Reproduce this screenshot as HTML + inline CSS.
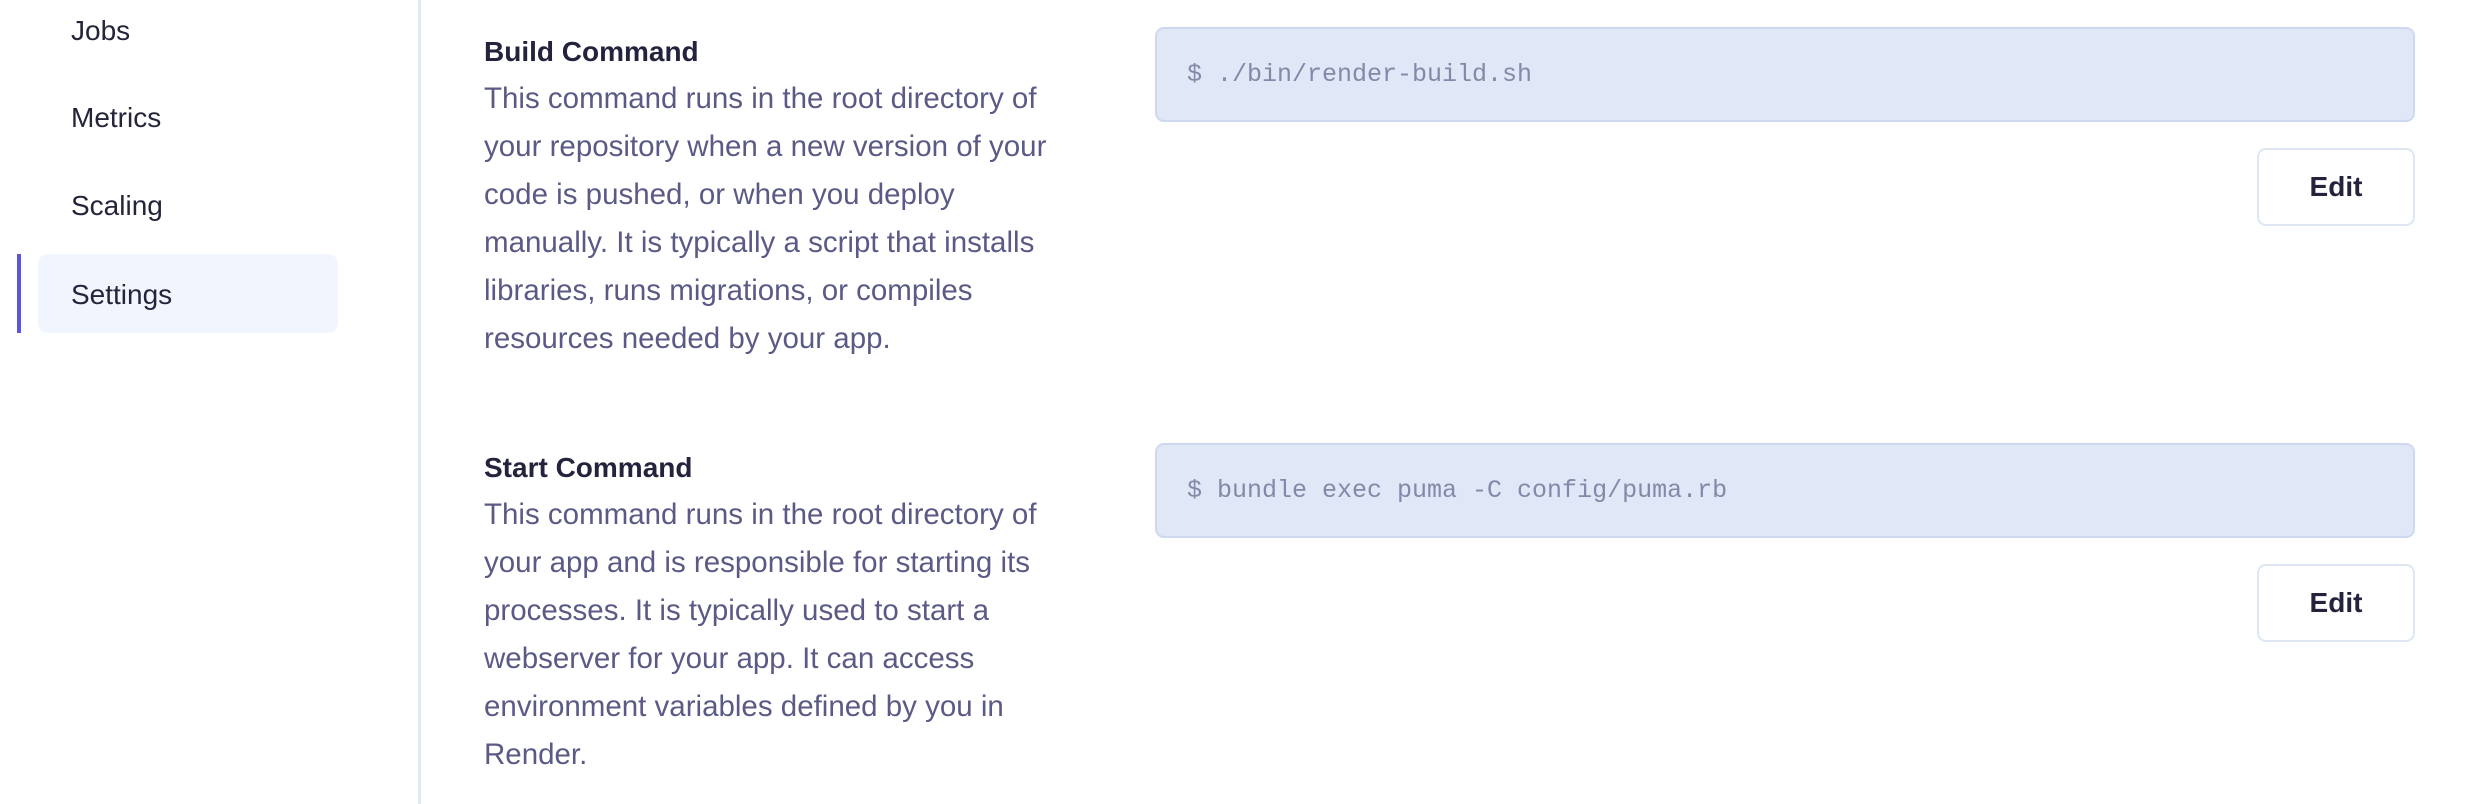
<!DOCTYPE html>
<html><head><meta charset="utf-8"><style>
*{margin:0;padding:0;box-sizing:border-box}
body{width:2470px;height:804px;background:#fff;position:relative;overflow:hidden;font-family:"Liberation Sans",sans-serif}
.nav{position:absolute;left:71px;font-size:28px;color:#24243a;line-height:40px}
.div{position:absolute;left:418px;top:0;width:3px;height:804px;background:#e2e8f4}
.act{position:absolute;left:38px;top:254px;width:300px;height:79px;background:#f0f5fe;border-radius:10px}
.bar{position:absolute;left:17px;top:254px;width:4px;height:79px;background:#5b55e0}
.t{position:absolute;left:484px;font-size:28px;font-weight:bold;color:#23233d;line-height:36px}
.p{position:absolute;left:484px;font-size:29.5px;color:#5b5a86;line-height:48px;white-space:nowrap}
.code{position:absolute;left:1155px;width:1260px;height:95px;background:#e0e7f6;border:2px solid #cfd8ef;border-radius:9px;font-family:"Liberation Mono",monospace;font-size:25px;color:#8488a9;padding-left:30px;line-height:91px}
.btn{position:absolute;left:2257px;width:158px;height:78px;border:2px solid #e0e6f5;border-radius:9px;font-size:28px;font-weight:bold;color:#23233d;text-align:center;line-height:74px}
</style></head><body>
<div class="nav" style="top:11px">Jobs</div>
<div class="nav" style="top:98px">Metrics</div>
<div class="nav" style="top:186px">Scaling</div>
<div class="act"></div><div class="bar"></div>
<div class="nav" style="top:275px">Settings</div>
<div class="div"></div>

<div class="t" style="top:34px">Build Command</div>
<div class="p" style="top:75px">This command runs in the root directory of<br>your repository when a new version of your<br>code is pushed, or when you deploy<br>manually. It is typically a script that installs<br>libraries, runs migrations, or compiles<br>resources needed by your app.</div>
<div class="code" style="top:27px">$ ./bin/render-build.sh</div>
<div class="btn" style="top:148px">Edit</div>

<div class="t" style="top:450px">Start Command</div>
<div class="p" style="top:491px">This command runs in the root directory of<br>your app and is responsible for starting its<br>processes. It is typically used to start a<br>webserver for your app. It can access<br>environment variables defined by you in<br>Render.</div>
<div class="code" style="top:443px">$ bundle exec puma -C config/puma.rb</div>
<div class="btn" style="top:564px">Edit</div>
</body></html>
